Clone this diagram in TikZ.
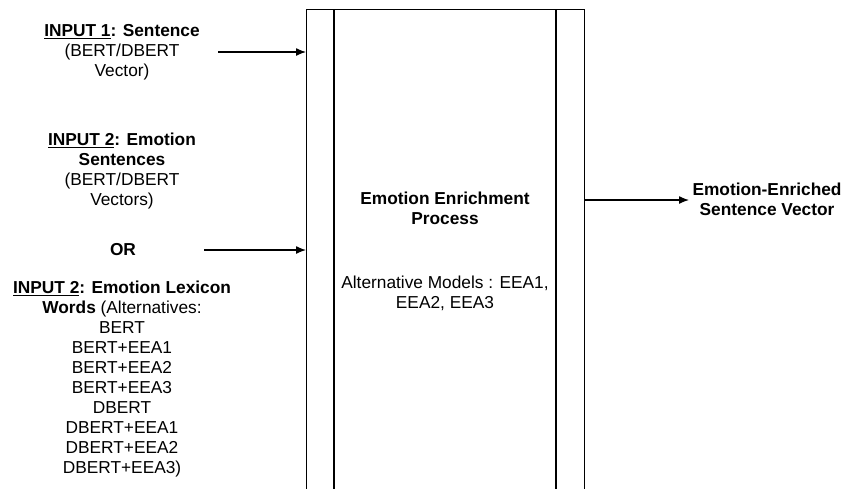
\documentclass[tikz,border=0pt]{standalone}
\usepackage{fontspec}
\setmainfont{Liberation Sans}
\usetikzlibrary{arrows.meta}
\begin{document}
\begin{tikzpicture}[x=1pt,y=-1pt,
  txt/.style={align=center,inner sep=0pt,font=\fontsize{17.3}{20}\selectfont},
  conn/.style={line width=1.3pt,-{Latex[length=10pt,width=8pt]}},
  boxline/.style={line width=1.3pt}]
\useasboundingbox (0,0) rectangle (845,488);
% process box
\node[draw,boxline,minimum width=278pt,minimum height=520pt,inner sep=0pt,anchor=north west] (box) at (306,9) {};
\coordinate (il) at (334,9);
\coordinate (ir) at (556,9);
\draw[boxline] (il) -- (334,540);
\draw[boxline] (ir) -- (556,540);
% texts
\node[txt] (in1) at (122,52) {\textbf{\underline{INPUT 1}: Sentence}\\(BERT/DBERT\\Vector)};
\node[txt] (in2) at (122,171) {\textbf{\underline{INPUT 2}: Emotion}\\\textbf{Sentences}\\(BERT/DBERT\\Vectors)};
\node[txt] (or) at (123,250) {\textbf{OR}};
\node[txt] (in3) at (122,379.5) {\textbf{\underline{INPUT 2}: Emotion Lexicon}\\\textbf{Words} (Alternatives:\\BERT\\BERT+EEA1\\BERT+EEA2\\BERT+EEA3\\DBERT\\DBERT+EEA1\\DBERT+EEA2\\DBERT+EEA3)};
\node[txt] (proc) at (445,208) {\textbf{Emotion Enrichment}\\\textbf{Process}};
\node[txt] (alt) at (445,293) {Alternative Models : EEA1,\\EEA2, EEA3};
\node[txt] (out) at (767,199.5) {\textbf{Emotion-Enriched}\\\textbf{Sentence Vector}};
% connectors
\coordinate (s1) at (218,52);
\coordinate (s2) at (204,250);
\coordinate (s3) at (584,200);
\draw[conn] (s1) -- (box.west |- s1);
\draw[conn] (s2) -- (box.west |- s2);
\draw[conn] (s3) -- (689,200);
\end{tikzpicture}
\end{document}
